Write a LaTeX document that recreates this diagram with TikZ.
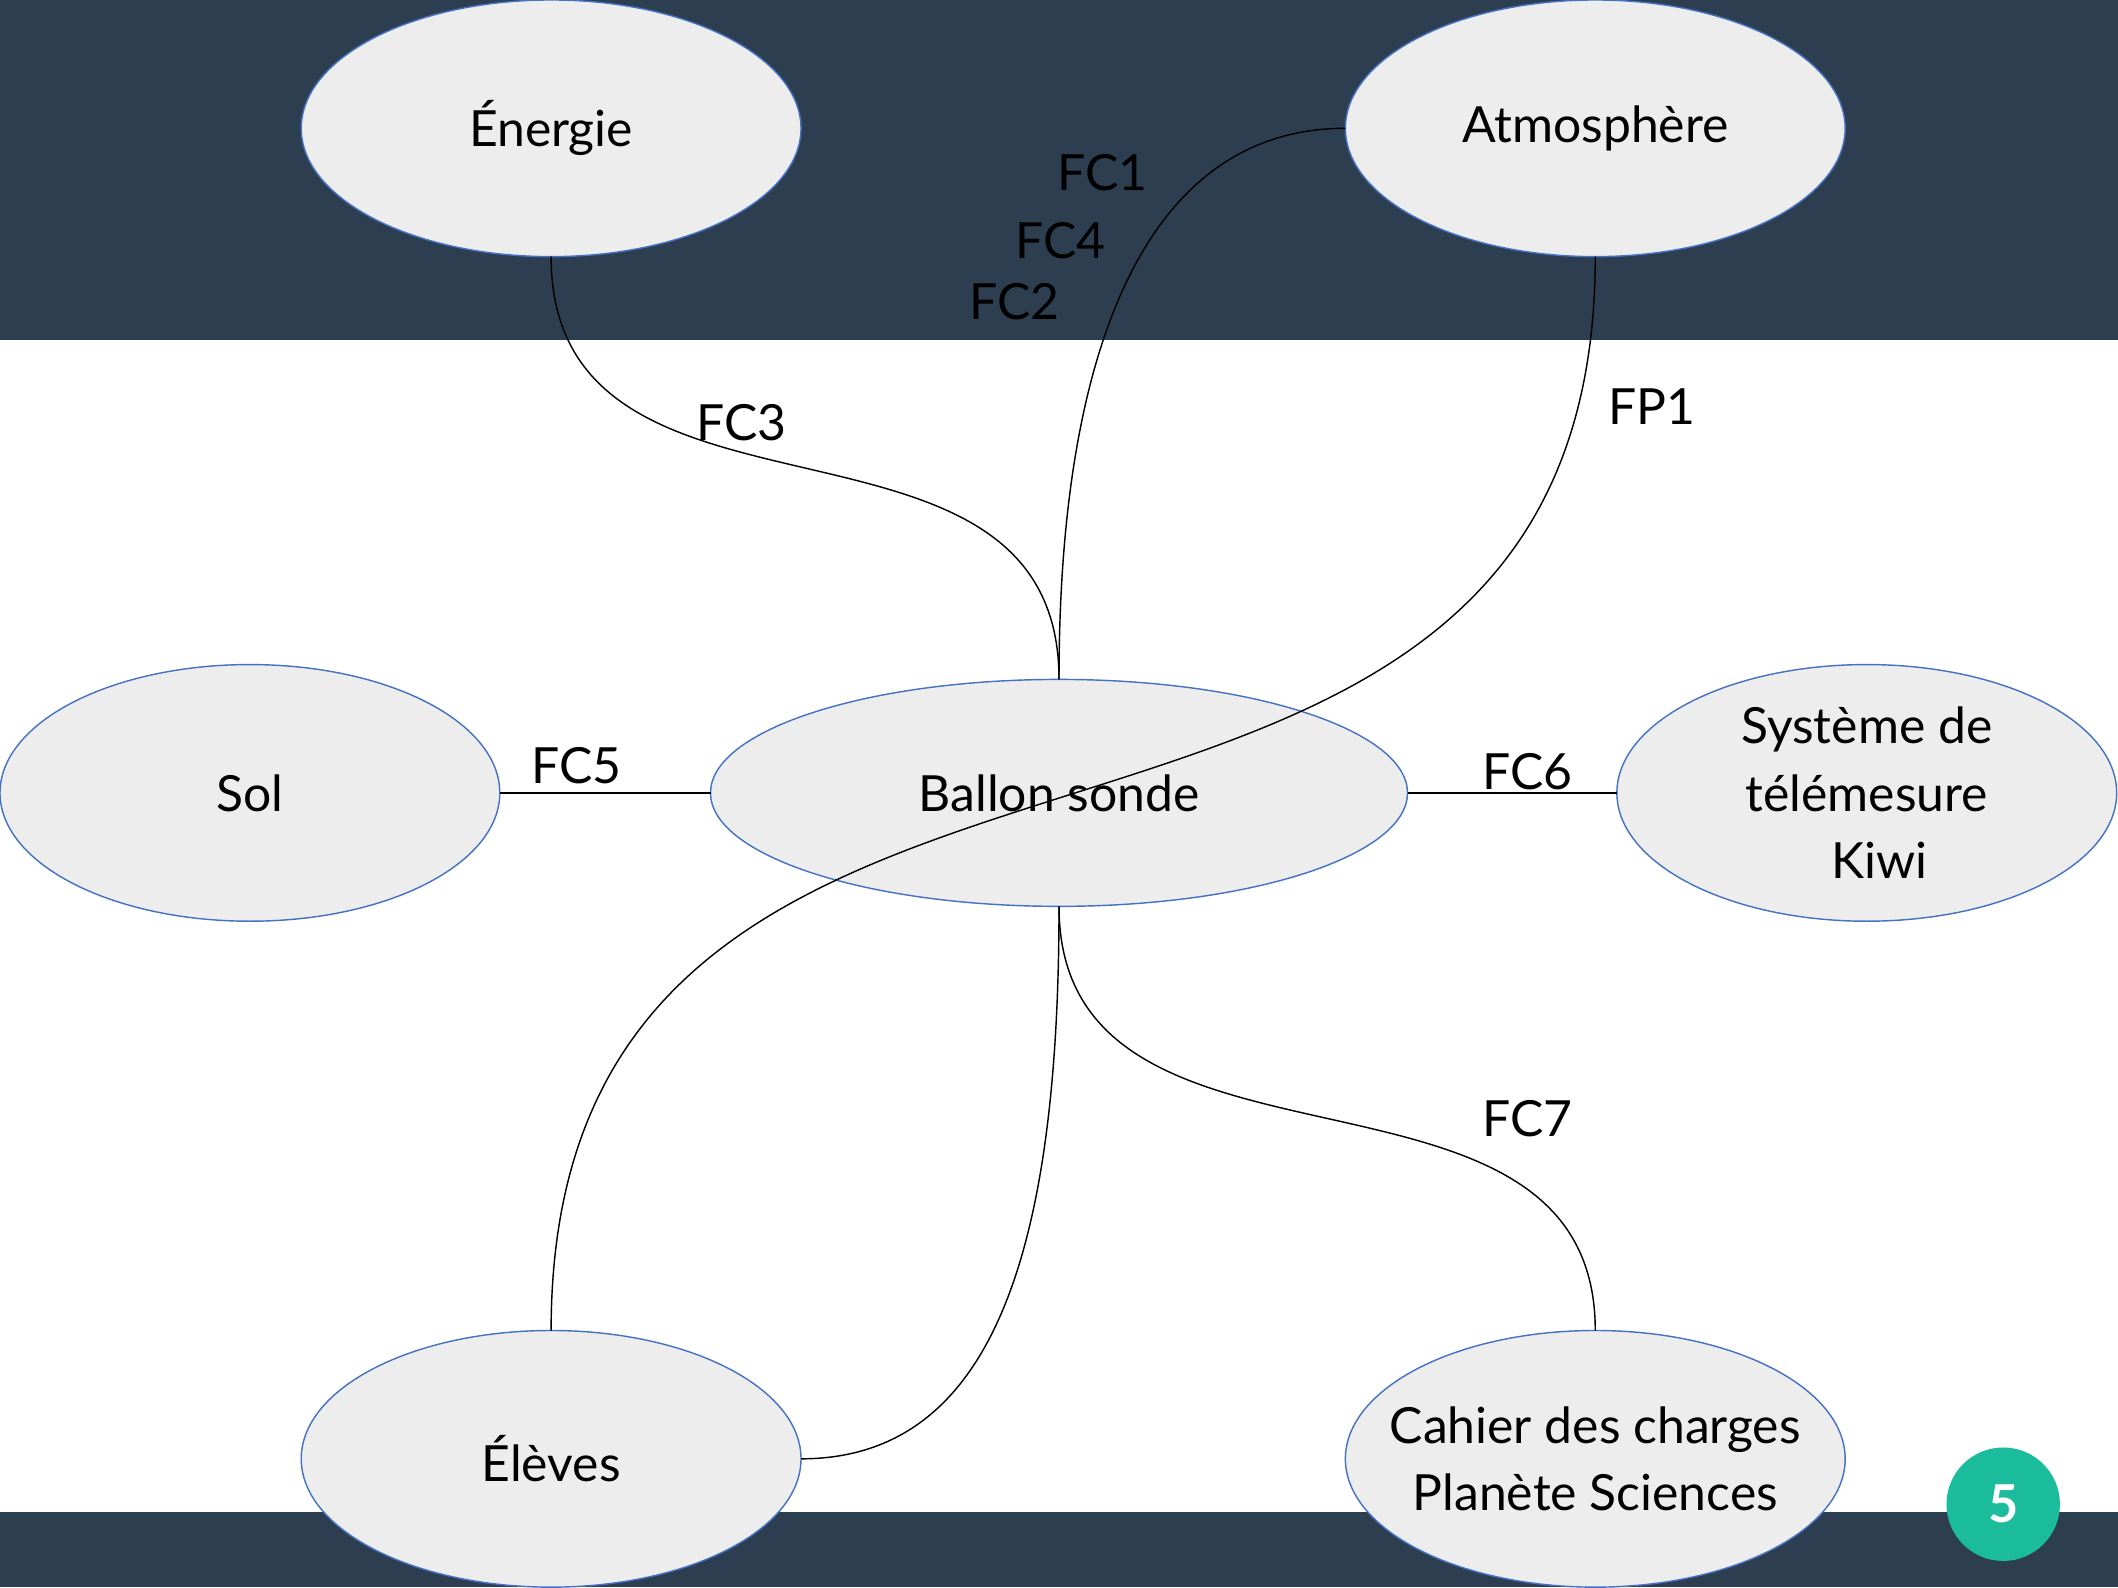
\documentclass[tikz,border=0pt]{standalone}
\usepackage{fontspec}
\setmainfont{Lato}
\usetikzlibrary{shapes.geometric}
\definecolor{bandColor}{HTML}{2C3E50}
\definecolor{pageColor}{HTML}{1ABC9C}
\definecolor{ellipseFill}{HTML}{EDEDED}
\definecolor{ellipseLine}{HTML}{4472C4}
\begin{document}
\begin{tikzpicture}
[ellipseDecorate/.style={shape=ellipse,inner sep=0pt,outer sep=0pt,draw=ellipseLine,
   fill=ellipseFill,line width=0.3pt},%
  textDecorate/.style={align=center,font=\fontsize{10.5}{14.2}\selectfont},%
  labelDecorate/.style={inner sep=0pt,font=\fontsize{10.5}{14.2}\selectfont},%
  lineDecorate/.style={-,line width=0.3pt,black}]
\useasboundingbox (0,0) rectangle (15.68,11.75);
%% bands
\fill[bandColor] (0,9.233) rectangle (15.68,11.75);
\fill[bandColor] (0,0) rectangle (15.68,0.56);
%% nodes or vertices
\foreach \nodename/\x/\y/\w/\h/\txt in {
  energie/4.08/10.80/3.70/1.90/{Énergie},
  atmos/11.81/10.80/3.70/1.90/{Atmosphère},
  sol/1.85/5.88/3.70/1.90/{Sol},
  ballon/7.84/5.88/5.16/1.68/{Ballon sonde},
  kiwi/13.82/5.88/3.70/1.90/{Système de\\télémesure\\\ \ Kiwi},
  eleves/4.08/0.95/3.70/1.90/{Élèves},
  cahier/11.81/0.95/3.70/1.90/{Cahier des charges\\Planète Sciences}}
{
  \node (\nodename) at (\x,\y) [ellipseDecorate,minimum width=\w cm,minimum height=\h cm,
    label={[textDecorate]center:\txt}] {};
}
%% edges or lines
\path
\foreach \startnode/\endnode in {sol/ballon, ballon/kiwi}
{
  (\startnode) edge[lineDecorate] (\endnode)
};
\draw[lineDecorate] (energie.south) .. controls +(0,-2.25) and +(0,2.25) .. (ballon.north);
\draw[lineDecorate] (atmos.west) .. controls +(-1.4,0) and +(0,2.6) .. (ballon.north);
\draw[lineDecorate] (atmos.south) .. controls +(0,-5.5) and +(0,5.5) .. (eleves.north);
\draw[lineDecorate] (ballon.south) .. controls +(0,-2.25) and +(0,2.25) .. (cahier.north);
\draw[lineDecorate] (ballon.south) .. controls +(0,-2.6) and +(1.4,0) .. (eleves.east);
%% edge labels
\foreach \labname/\x/\y in {
  FC1/8.16/10.47, FC4/7.85/9.97, FC2/7.51/9.52, FC3/5.49/8.62,
  FP1/12.23/8.74, FC5/4.27/6.08, FC6/11.31/6.04, FC7/11.31/3.47}
{
  \node (\labname) at (\x,\y) [labelDecorate] {\labname};
}
%% page number
\node (pagenum) at (14.83,0.614) [circle,fill=pageColor,minimum size=0.84cm,inner sep=0pt,
  text=white,font=\fontsize{11}{13}\selectfont\bfseries] {5};
\end{tikzpicture}
\end{document}
